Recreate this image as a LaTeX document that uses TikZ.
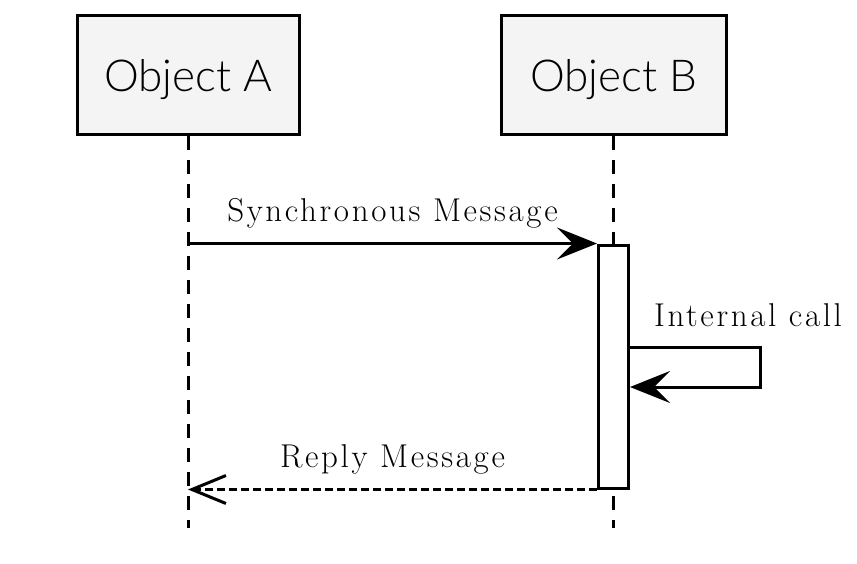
\documentclass[tikz,border=0pt]{standalone}
\usepackage{fontspec}
\newfontfamily\objfont{Lato Light}
\newfontfamily\msgfont{Latin Modern Roman}[LetterSpace=8]
\usetikzlibrary{arrows.meta,positioning}
\definecolor{BoxFill}{HTML}{F4F4F4}

\begin{document}
\begin{tikzpicture}[x=0.5pt,y=-0.5pt,line width=1.5pt,
  object/.style={draw,fill=BoxFill,inner sep=0pt,minimum height=59.5pt,text depth=0pt,font=\objfont\fontsize{22}{26}\selectfont},
  lifeline/.style={dash pattern=on 7pt off 5pt},
  activation/.style={draw,fill=white,inner sep=0pt,minimum width=15pt,minimum height=121.5pt},
  sync/.style={-{Stealth[length=20pt,width=16pt,inset=8pt]}},
  reply/.style={dash pattern=on 4pt off 2pt,-{Straight Barb[length=17pt,width=14pt]}},
  msg/.style={font=\msgfont\fontsize{16.5}{19}\selectfont,inner sep=0pt}]
  \useasboundingbox (0,0) rectangle (857,563);
  \node[object,minimum width=111pt] (objA) at (188,75) {Object A};
  \node[object,minimum width=112.5pt] (objB) at (613.5,75) {Object B};
  \coordinate (endA) at (188,528);
  \coordinate (endB) at (613.5,528);
  \draw[lifeline] (objA) -- (endA);
  \draw[lifeline] (objB) -- (endB);
  \node[activation] (act) at (613.5,366.5) {};
  % messages
  \draw[sync] (objA.south |- act.north) -- (act.north west)
    node[msg,midway,above=7pt] {Synchronous Message};
  \coordinate (loopTop) at (760,347);
  \coordinate (loopBot) at (760,387);
  \draw[sync] (act.east |- loopTop) -- (loopTop) -- (loopBot) -- (act.east |- loopBot);
  \node[msg] (callLbl) at (748,315) {Internal call};
  \draw[reply] (act.south west) -- (objA.south |- act.south)
    node[msg,midway,above=7pt] {Reply Message};
\end{tikzpicture}
\end{document}
